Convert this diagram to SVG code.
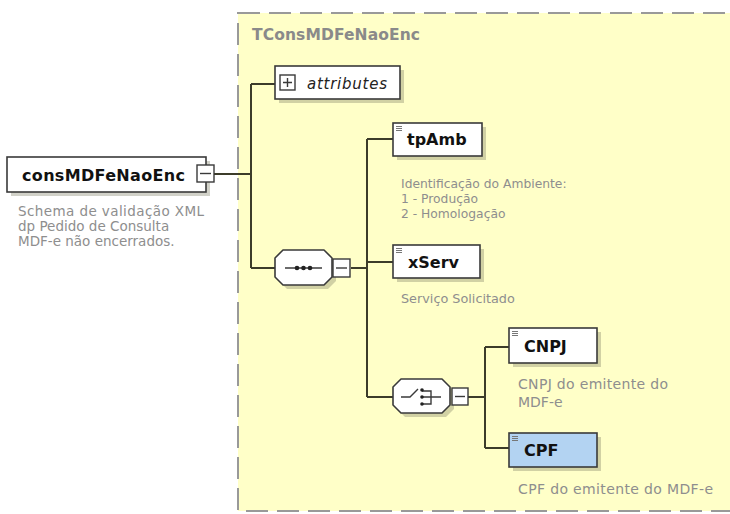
<svg xmlns="http://www.w3.org/2000/svg" width="730" height="514" viewBox="0 0 730 514">
<style>
.el{fill:#fff;stroke:#3a3a3a;stroke-width:1.6}
.sel{fill:#b3d3f2;stroke:#3a3a3a;stroke-width:1.6}
.sh{fill:#7a7a60;opacity:0.35}
.name{font-family:"DejaVu Sans",sans-serif;font-weight:bold;font-size:16px;fill:#111}
.desc{font-family:"DejaVu Sans",sans-serif;fill:#8e8e8e}
.con{fill:none;stroke:#3c3c2a;stroke-width:2}
.btn{fill:#fff;stroke:#3a3a3a;stroke-width:1.4}
.ico{stroke:#3a3a3a;stroke-width:1.4;fill:none}
.tag{stroke:#777;stroke-width:1}
</style>
<rect x="0" y="0" width="730" height="514" fill="#fff"/>
<g id="complexType">
<rect x="238" y="13" width="510" height="498" fill="#ffffc8" stroke="#999" stroke-width="2" stroke-dasharray="22 9"/>
<text x="252" y="40" font-family="DejaVu Sans, sans-serif" font-weight="bold" font-size="15.5" fill="#8a8a8a" textLength="168">TConsMDFeNaoEnc</text>
</g>
<g id="connectors">
<path class="con" d="M214,174 H251 M251,84 V268 M251,84 H275 M251,268 H275 M351,268 H367 M367,139 V397 M367,139 H393 M367,262 H393 M367,397 H393 M468,397 H485 M485,347 V448 M485,347 H509 M485,448 H509"/>
</g>
<g id="consMDFeNaoEnc">
<rect class="sh" x="11" y="161" width="199" height="35"/>
<rect class="el" x="7" y="157" width="199" height="35"/>
<text class="name" x="22" y="181" textLength="163">consMDFeNaoEnc</text>
<rect class="btn" x="197" y="165" width="17" height="17"/>
<path class="ico" d="M200,173.5 H211"/>
<text class="desc" font-size="13.5"><tspan x="18" y="216" textLength="186">Schema de validação XML</tspan><tspan x="18" y="231">dp Pedido de Consulta</tspan><tspan x="18" y="246">MDF-e não encerrados.</tspan></text>
</g>
<g id="attributes">
<rect class="sh" x="279" y="70" width="125" height="33"/>
<rect class="el" x="275" y="66" width="125" height="33"/>
<rect class="btn" x="280" y="75" width="15" height="15"/>
<path class="ico" d="M283,82.5 H292 M287.5,78 V87"/>
<text x="307" y="89" font-family="DejaVu Sans, sans-serif" font-style="italic" font-size="15" fill="#222" textLength="80">attributes</text>
</g>
<g id="sequence">
<polygon class="sh" points="287,254 328,254 336,262 336,281 328,289 287,289 279,281 279,262"/>
<polygon class="el" points="283,250 324,250 332,258 332,277 324,285 283,285 275,277 275,258" stroke-linejoin="round"/>
<path class="ico" d="M285,268 H322"/>
<circle cx="297" cy="268" r="2.3" fill="#222"/>
<circle cx="303.5" cy="268" r="2.3" fill="#222"/>
<circle cx="310" cy="268" r="2.3" fill="#222"/>
<rect class="btn" x="333" y="259" width="17" height="18"/>
<path class="ico" d="M336,268 H347"/>
</g>
<g id="tpAmb">
<rect class="sh" x="397" y="127" width="89" height="33"/>
<rect class="el" x="393" y="123" width="89" height="33"/>
<path class="tag" d="M396,126.5 H402 M396,128.5 H402 M396,130.5 H402"/>
<text class="name" x="407" y="145" font-size="17">tpAmb</text>
<text class="desc" font-size="12.3"><tspan x="401" y="188">Identificação do Ambiente:</tspan><tspan x="401" y="203">1 - Produção</tspan><tspan x="401" y="218">2 - Homologação</tspan></text>
</g>
<g id="xServ">
<rect class="sh" x="397" y="249" width="87" height="33"/>
<rect class="el" x="393" y="245" width="87" height="33"/>
<path class="tag" d="M396,248.5 H402 M396,250.5 H402 M396,252.5 H402"/>
<text class="name" x="408" y="268">xServ</text>
<text class="desc" font-size="12.8" x="401" y="303">Serviço Solicitado</text>
</g>
<g id="choice">
<polygon class="sh" points="405,383 446,383 454,391 454,409 446,417 405,417 397,409 397,391"/>
<polygon class="el" points="401,379 442,379 450,387 450,405 442,413 401,413 393,405 393,387" stroke-linejoin="round"/>
<path class="ico" d="M401,397 H410 L418,389 M422,391 H431 V404 H422 M422,397 H441"/>
<circle cx="422" cy="390" r="1.8" fill="#222"/>
<circle cx="422" cy="397" r="1.8" fill="#222"/>
<circle cx="422" cy="404" r="1.8" fill="#222"/>
<rect class="btn" x="452" y="388" width="16" height="17"/>
<path class="ico" d="M455,396.5 H465"/>
</g>
<g id="CNPJ">
<rect class="sh" x="513" y="332" width="88" height="35"/>
<rect class="el" x="509" y="328" width="88" height="35"/>
<path class="tag" d="M512,331.5 H518 M512,333.5 H518 M512,335.5 H518"/>
<text class="name" x="524" y="352" font-size="17">CNPJ</text>
<text class="desc" font-size="14"><tspan x="518" y="389" textLength="150">CNPJ do emitente do</tspan><tspan x="518" y="407">MDF-e</tspan></text>
</g>
<g id="CPF">
<rect class="sh" x="513" y="437" width="88" height="34"/>
<rect class="sel" x="509" y="433" width="88" height="34"/>
<path class="tag" d="M512,436.5 H518 M512,438.5 H518 M512,440.5 H518"/>
<text class="name" x="524" y="456">CPF</text>
<text class="desc" font-size="14" x="518" y="494" textLength="195">CPF do emitente do MDF-e</text>
</g>
</svg>
